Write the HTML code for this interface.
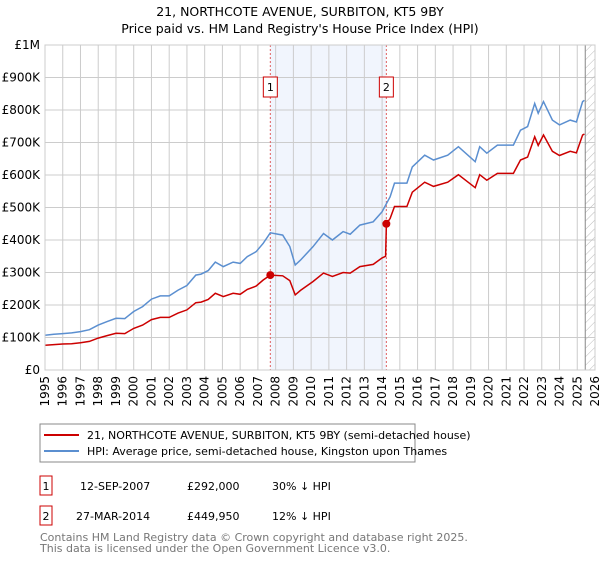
<!DOCTYPE html>
<html><head><meta charset="utf-8"><style>
body{margin:0;background:#fff;font-family:"Liberation Sans","DejaVu Sans",sans-serif;}
svg text{font-family:"DejaVu Sans","Liberation Sans",sans-serif;}
</style></head><body>
<svg id="c" width="600" height="560" xmlns="http://www.w3.org/2000/svg">
<defs><pattern id="hatch" width="6" height="6" patternUnits="userSpaceOnUse" patternTransform="rotate(45)"><line x1="0" y1="0" x2="0" y2="6" stroke="#bbb" stroke-width="1"/></pattern></defs>
<text x="300" y="16" text-anchor="middle" font-size="12.5" fill="#000">21, NORTHCOTE AVENUE, SURBITON, KT5 9BY</text>
<text x="300" y="33" text-anchor="middle" font-size="12.5" fill="#000">Price paid vs. HM Land Registry's House Price Index (HPI)</text>
<g id="grid"></g><g id="marks"></g><g id="axes"></g>
<rect x="40" y="424" width="375" height="38" fill="#fff" stroke="#888"/>
<line x1="44" y1="435" x2="79" y2="435" stroke="#cc0000" stroke-width="2"/>
<text x="87" y="439" font-size="11">21, NORTHCOTE AVENUE, SURBITON, KT5 9BY (semi-detached house)</text>
<line x1="44" y1="451" x2="79" y2="451" stroke="#5b8fd0" stroke-width="2"/>
<text x="87" y="455" font-size="11">HPI: Average price, semi-detached house, Kingston upon Thames</text>
<g font-size="11">
<rect x="40" y="476" width="12" height="19" fill="#fff" stroke="#cc0000"/>
<text x="46" y="490" text-anchor="middle">1</text>
<text x="80" y="490">12-SEP-2007</text>
<text x="187" y="490">£292,000</text>
<text x="272" y="490">30% ↓ HPI</text>
<rect x="40" y="506" width="12" height="19" fill="#fff" stroke="#cc0000"/>
<text x="46" y="520" text-anchor="middle">2</text>
<text x="76" y="520">27-MAR-2014</text>
<text x="187" y="520">£449,950</text>
<text x="272" y="520">12% ↓ HPI</text>
</g>
<text x="40" y="541" font-size="11" fill="#777">Contains HM Land Registry data © Crown copyright and database right 2025.</text>
<text x="40" y="552" font-size="11" fill="#777">This data is licensed under the Open Government Licence v3.0.</text>
</svg>
<script>
const hpiDates=[1995.0,1995.5,1996.0,1996.5,1997.0,1997.5,1998.0,1998.5,1999.0,1999.5,2000.0,2000.5,2001.0,2001.5,2002.0,2002.5,2003.0,2003.5,2003.8,2004.2,2004.6,2005.05,2005.6,2006.0,2006.4,2006.9,2007.3,2007.7,2008.4,2008.8,2009.1,2009.4,2010.1,2010.7,2011.2,2011.8,2012.2,2012.75,2013.5,2014.0,2014.45,2014.7,2015.4,2015.7,2016.4,2016.9,2017.7,2018.3,2019.25,2019.5,2019.9,2020.5,2021.4,2021.8,2022.2,2022.6,2022.8,2023.1,2023.6,2024.0,2024.6,2024.95,2025.3,2025.4];
const hpiValues=[107,110,112,114,118,124,138,149,159,158,180,195,218,228,228,246,260,292,295,306,332,318,332,328,349,364,390,422,415,380,323,338,379,420,400,426,418,446,456,487,533,575,575,625,661,646,661,687,641,687,667,692,692,738,749,820,790,826,769,754,769,763,826,830];
const priceDates=[1995.0,1995.5,1996.0,1996.5,1997.0,1997.5,1998.0,1998.5,1999.0,1999.5,2000.0,2000.5,2001.0,2001.5,2002.0,2002.5,2003.0,2003.5,2003.8,2004.2,2004.6,2005.05,2005.6,2006.0,2006.4,2006.9,2007.3,2007.7,2008.4,2008.8,2009.1,2009.4,2010.1,2010.7,2011.2,2011.8,2012.2,2012.75,2013.5,2014.0,2014.2,2014.24,2014.45,2014.7,2015.4,2015.7,2016.4,2016.9,2017.7,2018.3,2019.25,2019.5,2019.9,2020.5,2021.4,2021.8,2022.2,2022.6,2022.8,2023.1,2023.6,2024.0,2024.6,2024.95,2025.3,2025.4];
const priceValues=[76,78,80,81,84,88,98,106,113,112,128,138,155,162,162,175,185,207,209,217,236,226,236,233,248,258,277,292,290,275,231,245,272,298,288,300,298,318,325,345,350,450,466,503,503,547,578,565,578,601,561,601,584,605,605,646,655,718,691,723,673,660,673,668,723,726];
const saleDates=[2007.70,2014.24];
const saleValues=[292,449.95];
const saleLabels=["1","2"];
const yTicks=[0,100,200,300,400,500,600,700,800,900,1000];
const yTickLabels=["£0","£100K","£200K","£300K","£400K","£500K","£600K","£700K","£800K","£900K","£1M"];
const xTicks=[1995,1996,1997,1998,1999,2000,2001,2002,2003,2004,2005,2006,2007,2008,2009,2010,2011,2012,2013,2014,2015,2016,2017,2018,2019,2020,2021,2022,2023,2024,2025,2026];
const NS="http://www.w3.org/2000/svg";
const X0=45,X1=595,Y0=370,Y1=45;
const xs=t=>X0+(t-1995)/(2026-1995)*(X1-X0);
const ys=v=>Y0-v/1000*(Y0-Y1);
function mk(tag,attrs,parent){const e=document.createElementNS(NS,tag);for(const k in attrs)e.setAttribute(k,attrs[k]);parent.appendChild(e);return e;}
const grid=document.getElementById('grid'),marks=document.getElementById('marks'),axes=document.getElementById('axes');
let r=mk('rect',{x:xs(saleDates[0]),y:Y1,width:xs(saleDates[1])-xs(saleDates[0]),height:Y0-Y1,fill:'#eef3fc',opacity:'0.8'},grid);


yTicks.forEach((v,i)=>{
  const l=mk('line',{x1:X0,x2:X1,y1:ys(v),y2:ys(v),stroke:'#ccc'},grid);
  
  
  const t=mk('text',{x:X0-5,y:ys(v)+4,'text-anchor':'end','font-size':'12'},axes);
  t.textContent=yTickLabels[i];
  
  
});
xTicks.forEach(yr=>{
  const l=mk('line',{x1:xs(yr),x2:xs(yr),y1:Y1,y2:Y0,stroke:'#ccc'},grid);
  
  
  const t=mk('text',{x:0,y:0,'text-anchor':'end','font-size':'12',transform:`translate(${xs(yr)+4},${Y0+6}) rotate(-90)`},axes);
  t.textContent=yr;
  
  
});
let h=mk('rect',{x:xs(2025.45),y:Y1,width:X1-xs(2025.45),height:Y0-Y1,fill:'url(#hatch)'},grid);


let hl=mk('line',{x1:xs(2025.45),x2:xs(2025.45),y1:Y1,y2:Y0,stroke:'#888'},grid);


saleDates.forEach((d,i)=>{
  const l=mk('line',{x1:xs(d),x2:xs(d),y1:Y1,y2:Y0,stroke:'#e06060','stroke-dasharray':'2,2'},marks);
  
  
  const b=mk('rect',{x:xs(d)-7,y:77,width:14,height:20,fill:'#fff',stroke:'#cc0000'},axes);
  
  
  const t=mk('text',{x:xs(d),y:91,'text-anchor':'middle','font-size':'11'},axes);
  t.textContent=saleLabels[i];
  
  
});
const pathOf=(ds,vs)=>ds.map((d,i)=>(i?'L':'M')+xs(d).toFixed(1)+','+ys(vs[i]).toFixed(1)).join('');
let p1=mk('path',{d:pathOf(hpiDates,hpiValues),fill:'none',stroke:'#5b8fd0','stroke-width':'1.5'},marks);


let p2=mk('path',{d:pathOf(priceDates,priceValues),fill:'none',stroke:'#cc0000','stroke-width':'1.5'},marks);


saleDates.forEach((d,i)=>{
  const c=mk('circle',{cx:xs(d),cy:ys(saleValues[i]),r:4,fill:'#cc0000'},marks);
  
  
});
let fr=mk('rect',{x:X0,y:Y1,width:X1-X0,height:Y0-Y1,fill:'none',stroke:'#ccc'},axes);


</script>
</body></html>
